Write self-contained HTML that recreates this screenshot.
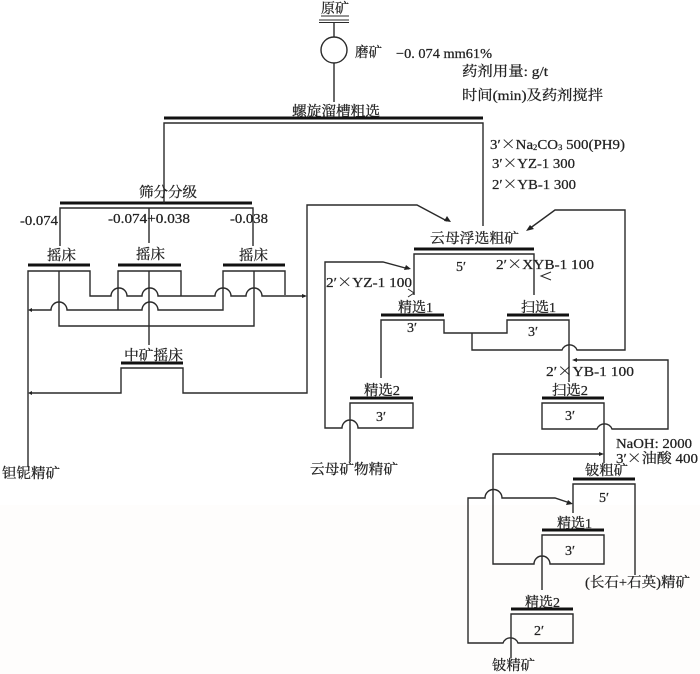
<!DOCTYPE html>
<html><head><meta charset="utf-8"><style>
html,body{margin:0;padding:0;background:#fff;width:700px;height:674px;overflow:hidden}
svg{display:block}
text{font-family:"Liberation Serif","Noto Serif CJK SC",serif;fill:#222;font-size:14px;stroke:#222;stroke-width:.25}
.x{font-family:"Noto Serif CJK SC",serif}
.l{fill:none;stroke:#2a2a2a;stroke-width:1.4}
.b{fill:none;stroke:#111;stroke-width:3}
.t{fill:none;stroke:#2a2a2a;stroke-width:1}
.a{fill:#222;stroke:none}
</style></head><body>
<svg width="700" height="674" viewBox="0 0 700 674" xmlns="http://www.w3.org/2000/svg">
<rect width="700" height="674" fill="#fff"/>
<rect y="505" width="700" height="169" fill="#fefdfc"/>

<g class="b">
<path d="M164 118H483"/>
<path d="M60 203H252"/>
<path d="M28 265H90M118 265H181M223 265H285"/>
<path d="M121 363H183"/>
<path d="M414 249H534"/>
<path d="M381 315H444M507 315H569"/>
<path d="M350 398H413M542 398H604"/>
<path d="M573 479H635"/>
<path d="M542 530H604"/>
<path d="M511 609H573"/>
</g>
<path d="M319 20H349M319 22.500H349" class="t"/>

<g class="l">
<path d="M334 22V37"/>
<circle cx="334" cy="50" r="13"/>
<path d="M334 63V102"/>
<path d="M164 203V123H483V226"/>

<path d="M60 246V208H253V246"/>
<path d="M149 208V243"/>

<path d="M28 467V271H90V296H111A8 8 0 0 1 127 296H142A8 8 0 0 1 158 296H215A8 8 0 0 1 231 296H246A8 8 0 0 1 262 296H305"/>
<path d="M59 271V326H254V271"/>
<path d="M118 310V271H181V296"/>
<path d="M149 271V345"/>
<path d="M285 295V271H223V310H158A8 8 0 0 0 142 310H67A8 8 0 0 0 51 310H30"/>

<path d="M30 393H121V368H183V393H307V205H417L447 221"/>

<path d="M414 295V254H534V295"/>
<path d="M409 269L383 262H325V428H342A8 8 0 0 1 358 428H413V403H350V462"/>
<path d="M381 378V320H444V333H507V320H569V382"/>
<path d="M472 333V350H562A8 8 0 0 1 577 350H625V210H555L529 229"/>
<path d="M575 360H668V429H612A8 8 0 0 0 597 429H542V403H604V463"/>

<path d="M601 454H493V564H534A8 8 0 0 1 550 564H604V535H542V590"/>
<path d="M573 513V484H635V575"/>
<path d="M511 658V614H573V643H518A8 8 0 0 0 503 643H468V498H485A8 8 0 0 1 502 498H555L570 503"/>
</g>

<g class="a">
<path d="M307 296L302 294V298Z"/>
<path d="M28 310L32 308V312Z"/>
<path d="M28 393L32 391V395Z"/>
<path d="M451 222L444 221L447 216Z"/>
<path d="M526 231L530 225L534 229Z"/>
<path d="M411 269L404 270L406 265Z"/>
<path d="M572 360L577 358V362Z"/>
<path d="M604 454L599 452V456Z"/>
<path d="M573 504L566 505L568 500Z"/>
</g>
<path d="M551 272L541 276L551 280" class="t"/>
<path d="M408 289L414 293L408 297" class="t"/>

<g>
<text x="321" y="13" textLength="28" lengthAdjust="spacingAndGlyphs">原矿</text>
<path d="M321 16H349" class="t"/>
<text x="355" y="57" textLength="27" lengthAdjust="spacingAndGlyphs">磨矿</text>
<text x="396" y="58" textLength="96" lengthAdjust="spacingAndGlyphs">−0. 074 mm61%</text>
<text x="462" y="76" textLength="86" lengthAdjust="spacingAndGlyphs">药剂用量: g/t</text>
<text x="462" y="100" textLength="141" lengthAdjust="spacingAndGlyphs">时间(min)及药剂搅拌</text>
<text x="292" y="116" textLength="88" lengthAdjust="spacingAndGlyphs">螺旋溜槽粗选</text>
<text x="490" y="149" textLength="135" lengthAdjust="spacingAndGlyphs">3′<tspan class="x">×</tspan>Na<tspan font-size="8" dy="1">2</tspan><tspan dy="-1">CO</tspan><tspan font-size="8" dy="1">3</tspan><tspan dy="-1"> 500(PH9)</tspan></text>
<text x="492" y="168" textLength="83" lengthAdjust="spacingAndGlyphs">3′<tspan class="x">×</tspan>YZ-1 300</text>
<text x="492" y="189" textLength="84" lengthAdjust="spacingAndGlyphs">2′<tspan class="x">×</tspan>YB-1 300</text>

<text x="139" y="197" textLength="58" lengthAdjust="spacingAndGlyphs">筛分分级</text>
<text x="20" y="225" textLength="38" lengthAdjust="spacingAndGlyphs">-0.074</text>
<text x="108" y="223" textLength="82" lengthAdjust="spacingAndGlyphs">-0.074+0.038</text>
<text x="230" y="223" textLength="38" lengthAdjust="spacingAndGlyphs">-0.038</text>
<text x="47" y="260" textLength="29" lengthAdjust="spacingAndGlyphs">摇床</text>
<text x="136" y="259" textLength="29" lengthAdjust="spacingAndGlyphs">摇床</text>
<text x="239" y="260" textLength="29" lengthAdjust="spacingAndGlyphs">摇床</text>
<text x="124" y="360" textLength="59" lengthAdjust="spacingAndGlyphs">中矿摇床</text>
<text x="2" y="478" textLength="58" lengthAdjust="spacingAndGlyphs">钽铌精矿</text>

<text x="430" y="243" textLength="89" lengthAdjust="spacingAndGlyphs">云母浮选粗矿</text>
<text x="456" y="271">5′</text>
<text x="496" y="269" textLength="98" lengthAdjust="spacingAndGlyphs">2′<tspan class="x">×</tspan>XYB-1 100</text>
<text x="326" y="287" textLength="86" lengthAdjust="spacingAndGlyphs">2′<tspan class="x">×</tspan>YZ-1 100</text>
<text x="398" y="312" textLength="35" lengthAdjust="spacingAndGlyphs">精选1</text>
<text x="521" y="312" textLength="35" lengthAdjust="spacingAndGlyphs">扫选1</text>
<text x="407" y="332">3′</text>
<text x="528" y="336">3′</text>
<text x="546" y="376" textLength="88" lengthAdjust="spacingAndGlyphs">2′<tspan class="x">×</tspan>YB-1 100</text>
<text x="364" y="395" textLength="36" lengthAdjust="spacingAndGlyphs">精选2</text>
<text x="552" y="395" textLength="36" lengthAdjust="spacingAndGlyphs">扫选2</text>
<text x="376" y="421">3′</text>
<text x="565" y="420">3′</text>
<text x="310" y="474" textLength="88" lengthAdjust="spacingAndGlyphs">云母矿物精矿</text>

<text x="616" y="448" textLength="76" lengthAdjust="spacingAndGlyphs">NaOH: 2000</text>
<text x="616" y="463" textLength="82" lengthAdjust="spacingAndGlyphs">3′<tspan class="x">×</tspan>油酸 400</text>
<text x="585" y="475" textLength="43" lengthAdjust="spacingAndGlyphs">铍粗矿</text>
<text x="599" y="502">5′</text>
<text x="557" y="528" textLength="35" lengthAdjust="spacingAndGlyphs">精选1</text>
<text x="565" y="555">3′</text>
<text x="525" y="607" textLength="35" lengthAdjust="spacingAndGlyphs">精选2</text>
<text x="534" y="635">2′</text>
<text x="585" y="587" textLength="105" lengthAdjust="spacingAndGlyphs">(长石+石英)精矿</text>
<text x="492" y="670" textLength="43" lengthAdjust="spacingAndGlyphs">铍精矿</text>
</g>
</svg>
</body></html>
